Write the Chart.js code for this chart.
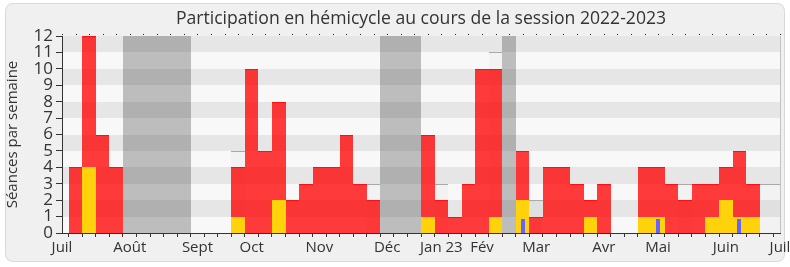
<!DOCTYPE html>
<html>
<head>
<meta charset="utf-8">
<script src="https://cdn.jsdelivr.net/npm/chart.js@4.4.0/dist/chart.umd.min.js"></script>
<style>
html,body{margin:0;padding:0;background:#ffffff;}
canvas{display:block;}
</style>
</head>
<body>
<canvas id="c" width="790" height="267"></canvas>
<script>
// Weeks of the 2022-2023 session (index 0 = first week of July 2022)
const weeks = ['S0','S1','S2','S3','S4','S5','S6','S7','S8','S9','S10','S11','S12','S13','S14','S15','S16','S17','S18','S19','S20','S21','S22','S23','S24','S25','S26','S27','S28','S29','S30','S31','S32','S33','S34','S35','S36','S37','S38','S39','S40','S41','S42','S43','S44','S45','S46','S47','S48','S49','S50','S51','S52','S53'];

// Month tick labels (one per week, empty where no label)
const monthTicks = ['Juil','','','','','Août','','','','','Sept','','','','Oct','','','','','Nov','','','','','Déc','','','','Jan 23','','','Fév','','','','Mar','','','','','Avr','','','','Mai','','','','','Juin','','','','Juil'];

// Présences (red)
const presences = [null,4,12,6,4,null,null,null,null,null, null,null,null,4,10,5,8,2,3,4, 4,6,3,2,null,null,null,6,2,1, 3,10,10,null,5,1,4,4,3,2, 3,null,null,4,4,3,2,3,3,4, 5,3,null,null];

// Interventions (yellow)
const interventions = [null,null,4,null,null,null,null,null,null,null, null,null,null,1,null,null,2,null,null,null, null,null,null,null,null,null,null,1,null,null, null,null,1,null,2,null,null,null,null,1, null,null,null,1,1,null,null,null,1,2, 1,1,null,null];

// Questions orales (blue)
const questions = [null,null,null,null,null,null,null,null,null,null, null,null,null,null,null,null,null,null,null,null, null,null,null,null,null,null,null,null,null,null, null,null,null,null,0.85,null,null,null,null,null, null,null,null,null,0.85,null,null,null,null,null, 0.85,null,null,null];

// Séances (light grey box with top line)
const seances = [null,null,null,null,null,null,null,null,null,null, null,null,null,5,null,null,null,null,null,null, null,null,null,3,null,null,null,null,3,null, null,null,11,null,null,2,null,null,null,null, null,null,null,null,null,null,3,null,null,null, null,null,3,3];

// Vacances parlementaires (grey bands)
const vacances = [null,null,null,null,null,12,12,12,12,12, null,null,null,null,null,null,null,null,null,null, null,null,null,null,12,12,12,null,null,null, null,null,null,12,null,null,null,null,null,null, null,null,null,null,null,null,null,null,null,null, null,null,null,null];

const yTicks = [0,1,2,3,4,5,6,7,8,9,10,11,12];

Chart.defaults.font.family = "'Open Sans', 'Noto Sans', sans-serif";
Chart.defaults.color = '#333333';

function roundRect(ctx, x, y, w, h, r) {
  ctx.beginPath();
  ctx.moveTo(x + r, y);
  ctx.lineTo(x + w - r, y);
  ctx.quadraticCurveTo(x + w, y, x + w, y + r);
  ctx.lineTo(x + w, y + h - r);
  ctx.quadraticCurveTo(x + w, y + h, x + w - r, y + h);
  ctx.lineTo(x + r, y + h);
  ctx.quadraticCurveTo(x, y + h, x, y + h - r);
  ctx.lineTo(x, y + r);
  ctx.quadraticCurveTo(x, y, x + r, y);
  ctx.closePath();
}

const decor = {
  id: 'decor',
  beforeDraw(chart) {
    const ctx = chart.ctx;
    const a = chart.chartArea;
    const y = chart.scales.y;
    ctx.save();
    ctx.fillStyle = '#ffffff';
    ctx.fillRect(0, 0, chart.width, chart.height);
    roundRect(ctx, 5.5, 3.5, 779, 258, 8);
    ctx.fillStyle = '#F0F0F0';
    ctx.fill();
    ctx.strokeStyle = '#D9D9D9';
    ctx.lineWidth = 1;
    ctx.stroke();
    for (let i = 0; i < yTicks.length - 1; i++) {
      const y0 = Math.round(y.getPixelForValue(yTicks[i]));
      const y1 = Math.round(y.getPixelForValue(yTicks[i + 1]));
      ctx.fillStyle = (i % 2) ? '#E6E6E6' : '#F8F8F8';
      ctx.fillRect(Math.round(a.left), y1, Math.round(a.right) - Math.round(a.left), y0 - y1);
    }
    ctx.restore();
  },
  beforeDatasetsDraw(chart) {
    // snap library-computed bar bounds to whole pixels so adjacent weeks join without seams
    chart.data.datasets.forEach((ds, i) => {
      const meta = chart.getDatasetMeta(i);
      meta.data.forEach(el => {
        if (!isFinite(el.x) || !isFinite(el.y)) return;
        const l = Math.round(el.x - el.width / 2);
        const r = Math.round(el.x + el.width / 2);
        el.x = (l + r) / 2;
        el.width = r - l;
        el.y = Math.round(el.y);
        el.base = Math.round(el.base);
        el.inflateAmount = 0;
      });
    });
  },
  afterDraw(chart) {
    const ctx = chart.ctx;
    const a = chart.chartArea;
    const x = chart.scales.x;
    ctx.save();
    ctx.fillStyle = '#222222';
    for (let i = 0; i < weeks.length; i++) {
      const px = Math.round(x.getPixelForTick(i));
      ctx.fillRect(px, a.top - 2, 1, 1);
    }
    ctx.strokeStyle = '#C4C4C4';
    ctx.lineWidth = 1;
    ctx.beginPath();
    ctx.moveTo(Math.round(a.right) + 0.5, a.top);
    ctx.lineTo(Math.round(a.right) + 0.5, a.bottom);
    ctx.stroke();
    ctx.restore();
  }
};

const common = { grouped: false, categoryPercentage: 1, barPercentage: 1, borderSkipped: false, inflateAmount: 0 };

new Chart(document.getElementById('c'), {
  type: 'bar',
  data: {
    labels: weeks,
    datasets: [
      Object.assign({}, common, { label: 'Questions orales', data: questions, backgroundColor: '#6464FF', barPercentage: 0.3, order: 1 }),
      Object.assign({}, common, { label: 'Interventions', data: interventions, backgroundColor: '#FFD20C', order: 2 }),
      Object.assign({}, common, { label: 'Présences', data: presences, backgroundColor: 'rgba(255,0,0,0.77)', borderColor: '#FF1010', borderWidth: {top: 1, left: 0, right: 0, bottom: 0}, order: 3 }),
      Object.assign({}, common, { label: 'Séances', data: seances, backgroundColor: 'rgba(0,0,0,0.025)', borderColor: '#A8A8A8', borderWidth: {top: 1, left: 0, right: 0, bottom: 0}, order: 4 }),
      Object.assign({}, common, { label: 'Vacances', data: vacances, backgroundColor: 'rgba(0,0,0,0.235)', order: 5 })
    ]
  },
  options: {
    responsive: false,
    animation: false,
    devicePixelRatio: 1,
    layout: { padding: { left: 0, right: 10, top: 0, bottom: 0 } },
    plugins: {
      legend: { display: false },
      tooltip: { enabled: false },
      title: {
        display: true,
        fullSize: false,
        text: 'Participation en hémicycle au cours de la session 2022-2023',
        color: '#333333',
        font: { size: 17.6, weight: 'normal' },
        padding: { top: 8, bottom: 6.9 }
      }
    },
    scales: {
      x: {
        type: 'category',
        offset: false,
        grid: { display: true, drawOnChartArea: false, drawTicks: true, tickLength: 4, color: '#333333' },
        border: { display: true, color: '#333333', width: 1 },
        ticks: {
          autoSkip: false, maxRotation: 0, minRotation: 0, padding: 2,
          font: { size: 15 }, color: '#333333',
          callback: (v, i) => monthTicks[i]
        },
        afterFit: (s) => { s.height = 34; s.paddingLeft = 0; s.paddingRight = 0; }
      },
      y: {
        min: 0, max: 12,
        grid: { display: true, drawOnChartArea: false, drawTicks: true, tickLength: 6, color: '#333333' },
        border: { display: true, color: '#333333', width: 1 },
        ticks: { stepSize: 1, autoSkip: false, padding: 3, font: { size: 17 }, color: '#333333' },
        title: { display: true, text: 'Séances par semaine', font: { size: 15 }, color: '#333333', padding: { top: 4, bottom: 0 } },
        afterFit: (s) => { s.width = 62; }
      }
    }
  },
  plugins: [decor]
});
</script>
</body>
</html>
